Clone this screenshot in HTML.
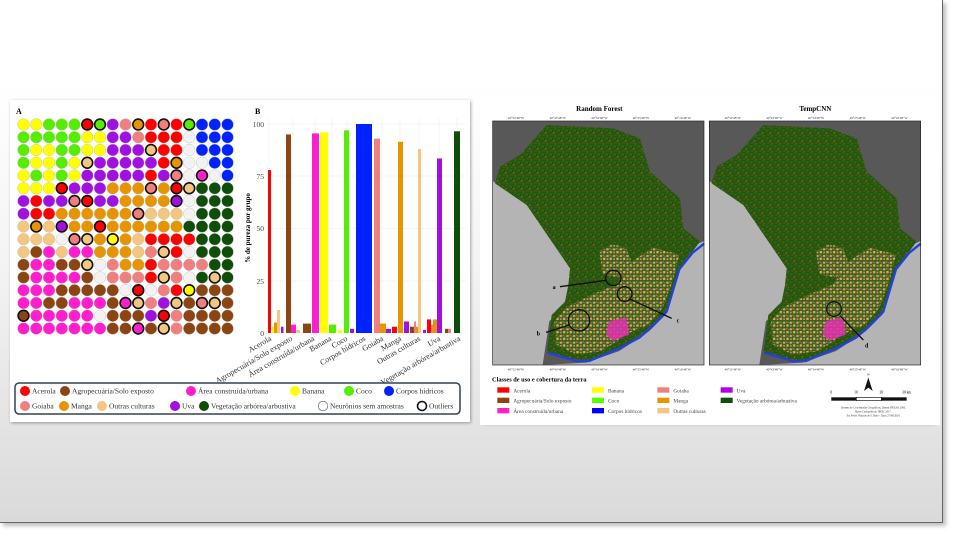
<!DOCTYPE html>
<html><head><meta charset="utf-8">
<style>
html,body{margin:0;padding:0;width:960px;height:540px;overflow:hidden;background:#fff;font-family:"Liberation Serif",serif}
#slide{position:absolute;left:0;top:0;width:942px;height:522px;border-right:1px solid #666;border-bottom:1px solid #666;
background:linear-gradient(#fff 0%,#fff 16%,#f4f4f4 50%,#dadada 100%);box-shadow:3px 3px 4px rgba(0,0,0,0.25)}
.panel{position:absolute;background:#fff;box-shadow:1px 1px 3px rgba(0,0,0,0.35)}
svg{position:absolute;left:0;top:0}
</style></head><body>
<div id="slide"></div>
<div class="panel" style="left:10px;top:100px;width:460px;height:322px"></div>
<div class="panel" style="left:482px;top:99px;width:451px;height:324px"></div>

<svg width="960" height="540" viewBox="0 0 960 540" id="main" font-family="Liberation Serif, serif">
  <text x="16" y="114" font-size="8" font-weight="bold">A</text>
  <g id="grid"></g>

  <text x="255" y="114" font-size="8" font-weight="bold">B</text>
  <g stroke="#ececec" stroke-width="0.6">
    <line x1="266" x2="466" y1="124" y2="124"/><line x1="266" x2="466" y1="176" y2="176"/>
    <line x1="266" x2="466" y1="228.5" y2="228.5"/><line x1="266" x2="466" y1="281" y2="281"/>
    <line x1="266" x2="466" y1="333" y2="333"/>
    <line x1="269" x2="269" y1="118" y2="333"/><line x1="293" x2="293" y1="118" y2="333"/>
    <line x1="315" x2="315" y1="118" y2="333"/><line x1="332" x2="332" y1="118" y2="333"/>
    <line x1="347" x2="347" y1="118" y2="333"/><line x1="364" x2="364" y1="118" y2="333"/>
    <line x1="382" x2="382" y1="118" y2="333"/><line x1="400" x2="400" y1="118" y2="333"/>
    <line x1="419" x2="419" y1="118" y2="333"/><line x1="439" x2="439" y1="118" y2="333"/>
    <line x1="457" x2="457" y1="118" y2="333"/>
  </g>
  <g font-size="7.5" fill="#444" text-anchor="end">
    <text x="264" y="127">100</text><text x="264" y="179">75</text><text x="264" y="231">50</text>
    <text x="264" y="284">25</text><text x="264" y="336">0</text>
  </g>
  <text transform="translate(250,228) rotate(-90)" font-size="7" font-weight="bold" text-anchor="middle">% de pureza por grupo</text>
  <g id="bars"></g>
  <g font-size="8" fill="#333" text-anchor="end">
    <text transform="translate(272,340) rotate(-30)">Acerola</text>
    <text transform="translate(293,340) rotate(-30)">Agropecuária/Solo exposto</text>
    <text transform="translate(315,340) rotate(-30)">Área construída/urbana</text>
    <text transform="translate(332,340) rotate(-30)">Banana</text>
    <text transform="translate(348,340) rotate(-30)">Coco</text>
    <text transform="translate(366,340) rotate(-30)">Corpos hídricos</text>
    <text transform="translate(384,340) rotate(-30)">Goiaba</text>
    <text transform="translate(402,340) rotate(-30)">Manga</text>
    <text transform="translate(421,340) rotate(-30)">Outras culturas</text>
    <text transform="translate(441,340) rotate(-30)">Uva</text>
    <text transform="translate(461,340) rotate(-30)">Vegetação arbórea/arbustiva</text>
  </g>

  <rect x="15" y="383" width="445" height="31" rx="4" fill="#fff" stroke="#33424f" stroke-width="1.5"/>
  <g id="leg" font-size="7.5" fill="#333"></g>
</svg>

<svg width="460" height="330" viewBox="0 0 1380 990" style="left:480px;top:95px" font-family="Liberation Serif, serif">
  <defs>
    <pattern id="spk" width="24" height="24" patternUnits="userSpaceOnUse">
      <rect width="24" height="24" fill="#215a0f"/>
      <rect x="2" y="3" width="7" height="2" fill="#9a4e1c"/><rect x="14" y="9" width="3" height="6" fill="#a8561e"/>
      <rect x="6" y="17" width="8" height="2" fill="#8a4a1a"/><rect x="19" y="19" width="3" height="3" fill="#b0642a"/>
      <rect x="17" y="1" width="2" height="2" fill="#9a5520"/>
    </pattern>
    <pattern id="urb" width="20" height="20" patternUnits="userSpaceOnUse">
      <rect width="20" height="20" fill="#346214"/>
      <rect x="1" y="2" width="7" height="6" fill="#e0a090"/><rect x="11" y="10" width="7" height="7" fill="#e0a860"/>
      <rect x="10" y="1" width="4" height="4" fill="#c07a34"/><rect x="2" y="12" width="5" height="5" fill="#d99070"/>
      <rect x="15" y="4" width="3" height="3" fill="#d070b0"/>
    </pattern>
    <g id="land">
      <rect x="0" y="0" width="634" height="732" fill="#585858"/>
      <polygon points="0,180 110,255 235,440 232,560 170,600 150,732 0,732" fill="#b4b4b4"/>
      <polygon points="634,360 600,375 560,450 520,580 470,630 380,690 280,725 150,732 634,732" fill="#b4b4b4"/>
      <polygon points="7,187 22,137 82,102 162,12 362,22 442,52 472,152 562,232 572,322 622,362 562,442 522,572 472,622 382,682 282,722 162,697 177,582 217,542 227,492 232,442 102,252" fill="url(#spk)"/>
      <polygon points="320,390 360,370 400,380 420,430 380,470 330,460" fill="url(#urb)"/>
      <polygon points="420,420 480,380 560,400 540,480 510,560 470,610 400,640 330,690 250,700 190,670 185,600 220,560 300,520 370,490" fill="url(#urb)"/>
      <polygon points="350,600 400,590 410,640 360,660 340,640" fill="#e030b0" opacity="0.85"/>
      <polyline points="165,695 250,720 290,720 380,682 440,650 475,620 522,572 560,445 600,395 634,368" fill="none" stroke="#2040e0" stroke-width="7"/>
      <rect x="0" y="0" width="634" height="732" fill="none" stroke="#222" stroke-width="2"/>
    </g>
  </defs>
  <rect x="0" y="0" width="1380" height="990" fill="#fff"/>
  <text x="358" y="48" font-size="21" font-weight="bold" text-anchor="middle">Random Forest</text>
  <text x="1006" y="48" font-size="21" font-weight="bold" text-anchor="middle">TempCNN</text>
  <use href="#land" x="38" y="78"/>
  <use href="#land" x="688" y="78"/>
  <g fill="none" stroke="#111" stroke-width="4">
    <circle cx="400" cy="549" r="23"/><circle cx="434" cy="597" r="22"/><circle cx="297" cy="676" r="32"/>
    <circle cx="1062" cy="642" r="22"/>
    <line x1="378" y1="556" x2="240" y2="575"/><line x1="450" y1="612" x2="575" y2="670"/>
    <line x1="268" y1="690" x2="198" y2="712"/><line x1="1080" y1="662" x2="1150" y2="735"/>
  </g>
  <g font-size="18" font-weight="bold">
    <text x="218" y="582">a</text><text x="170" y="722">b</text><text x="590" y="683">c</text><text x="1155" y="758">d</text>
  </g>
  <g font-size="10" fill="#333" text-anchor="middle">
    <text x="108" y="72">40°52'48"W</text><text x="233" y="72">40°43'48"W</text><text x="358" y="72">40°34'48"W</text><text x="483" y="72">40°25'48"W</text><text x="608" y="72">40°16'48"W</text>
    <text x="758" y="72">40°52'48"W</text><text x="883" y="72">40°43'48"W</text><text x="1008" y="72">40°34'48"W</text><text x="1133" y="72">40°25'48"W</text><text x="1258" y="72">40°16'48"W</text>
    <text x="108" y="827">40°52'48"W</text><text x="233" y="827">40°43'48"W</text><text x="358" y="827">40°34'48"W</text><text x="483" y="827">40°25'48"W</text><text x="608" y="827">40°16'48"W</text>
    <text x="758" y="827">40°52'48"W</text><text x="883" y="827">40°43'48"W</text><text x="1008" y="827">40°34'48"W</text><text x="1133" y="827">40°25'48"W</text><text x="1258" y="827">40°16'48"W</text>
  </g>
  <text x="36" y="860" font-size="19" font-weight="bold">Classes de uso e cobertura da terra</text>
  <g font-size="16" fill="#444">
    <rect x="52" y="877" width="36" height="16" fill="#f00"/><text x="100" y="892">Acerola</text>
    <rect x="52" y="908" width="36" height="16" fill="#8b4513"/><text x="100" y="923">Agropecuária/Solo exposto</text>
    <rect x="52" y="939" width="36" height="16" fill="#ff1dce"/><text x="100" y="954">Área construída/urbana</text>
    <rect x="336" y="877" width="36" height="16" fill="#ff0"/><text x="384" y="892">Banana</text>
    <rect x="336" y="908" width="36" height="16" fill="#5f0"/><text x="384" y="923">Coco</text>
    <rect x="336" y="939" width="36" height="16" fill="#00f"/><text x="384" y="954">Corpos hídricos</text>
    <rect x="532" y="877" width="36" height="16" fill="#f08080"/><text x="580" y="892">Goiaba</text>
    <rect x="532" y="908" width="36" height="16" fill="#e69500"/><text x="580" y="923">Manga</text>
    <rect x="532" y="939" width="36" height="16" fill="#f3c77f"/><text x="580" y="954">Outras culturas</text>
    <rect x="722" y="877" width="36" height="16" fill="#a0e"/><text x="770" y="892">Uva</text>
    <rect x="722" y="908" width="36" height="16" fill="#0f4d0a"/><text x="770" y="923">Vegetação arbórea/arbustiva</text>
  </g>
  <polygon points="1165,848 1152,888 1165,878 1178,888" fill="#111"/>
  <text x="1165" y="842" font-size="10" text-anchor="middle">N</text>
  <g font-size="11" text-anchor="middle"><text x="1054" y="896">0</text><text x="1128" y="896">10</text><text x="1204" y="896">20</text><text x="1280" y="896">30 km</text></g>
  <rect x="1054" y="907" width="75" height="10" fill="#111"/><rect x="1129" y="907" width="75" height="10" fill="#fff" stroke="#111" stroke-width="2"/><rect x="1204" y="907" width="76" height="10" fill="#111"/>
  <g font-size="8" text-anchor="middle" fill="#333"><text x="1180" y="940">Sistema de Coordenadas Geográficas, Datum SIRGAS 2000.</text><text x="1180" y="952">Bases Cartográficas: IBGE, 2017.</text><text x="1180" y="964">Ed: Pedro Vinícius de S. Brito - Data: 27/08/2024.</text></g>
</svg>

<script>
var C={Y:"#ffff00",G:"#55ee00",R:"#ff0000",P:"#a010e0",K:"#f08080",O:"#e69500",B:"#0022ff",W:"#f2f2f2",T:"#f3c77f",M:"#ff1dce",N:"#8b4513",D:"#0f4d0a"};
var rows=[
"YYGGGR*G*PKO*RK*RG*BBB",
"GGGGGYYPPKRRRWBBB",
"GYYGGYYPPPT*RRWBBB",
"GYYGYT*PPPPPRO*WWBB",
"YGYGYPPPPPRPK*WM*WB",
"YYYR*PPPOOOK*OR*T*DDD",
"PRPPK*R*PPOOOOP*WDDD",
"PRROOOOOOK*TTTWDDD",
"TO*TP*OOR*OOOOOODDDD",
"TTTWK*T*OY*OTRRRRDDD",
"TNMTMMOOOTKT*RWDDD",
"NMMNNT*WKOORKKKKDD",
"NMMMMNWKKKRT*KWDT*D",
"MMMNNNNNWR*WKRY*NNN",
"MMNNMMMNM*T*KPT*NK*T*N",
"N*MMMMMWNNNPR*KNNNN",
"MMMMMMMNNM*NT*KNNNN"];
var g=document.getElementById("grid"),h="";
rows.forEach(function(r,ri){var cells=[];for(var i=0;i<r.length;i++){if(r[i]=="*")cells[cells.length-1].o=1;else cells.push({c:r[i]});}
cells.slice(0,17).forEach(function(c,ci){var cx=23.5+ci*12.75,cy=124.5+ri*12.75;
h+='<circle cx="'+cx+'" cy="'+cy+'" r="'+(c.o?5.4:5.9)+'" fill="'+C[c.c]+'" stroke="'+(c.o?"#111":"#bbb")+'" stroke-width="'+(c.o?1.6:0.4)+'"/>';});});
g.innerHTML=h;
var bars=[[268,3,78,"R"],[272,2,3,"Y"],[274,3,5,"O"],[277,3,11,"T"],[281,2.5,3,"P"],
[286,5,95,"N"],[291,5,4,"M"],[296,4,1.5,"T"],
[303,8,4.5,"N"],[312,7,95.5,"M"],
[320,8,96,"Y"],[329,7,4,"G"],
[338,4,1.5,"Y"],[344,5,97,"G"],[350,4,2,"P"],
[356,16,100,"B"],
[374,6,93,"K"],[380,6,4.5,"O"],[386,5,2,"P"],
[392,5,3,"R"],[398,5,91.5,"O"],[404,5,5.5,"P"],
[410,4,3,"N"],[414,2,5.5,"K"],[416,2,3,"O"],[418,3,88,"T"],[423,3,1.5,"P"],
[427,4,6.5,"R"],[431,2,4,"K"],[433,4,6.5,"O"],[437,5,83.5,"P"],
[445,3,2,"N"],[448,3,2,"K"],[454,6,96.5,"D"]];
h="";bars.forEach(function(b){var y=333-2.09*b[2];h+='<rect x="'+b[0]+'" y="'+y+'" width="'+b[1]+'" height="'+(333-y)+'" fill="'+C[b[3]]+'"/>';});
document.getElementById("bars").innerHTML=h;
var L=[[25,391,"R","Acerola"],[65,391,"N","Agropecuária/Solo exposto"],[191,391,"M","Área construída/urbana"],[295,391,"Y","Banana"],[349,391,"G","Coco"],[389,391,"B","Corpos hídricos"],
[25,406,"K","Goiaba"],[64,406,"O","Manga"],[102,406,"T","Outras culturas"],[175,406,"P","Uva"],[204,406,"D","Vegetação arbórea/arbustiva"],[323,406,"W","Neurônios sem amostras"],[422,406,"X","Outliers"]];
h="";L.forEach(function(l){if(l[2]=="X")h+='<circle cx="'+l[0]+'" cy="'+l[1]+'" r="4.5" fill="#fff" stroke="#111" stroke-width="1.6"/>';
else if(l[2]=="W")h+='<circle cx="'+l[0]+'" cy="'+l[1]+'" r="4.8" fill="#fff" stroke="#555" stroke-width="0.6"/>';
else h+='<circle cx="'+l[0]+'" cy="'+l[1]+'" r="5" fill="'+C[l[2]]+'"/>';
h+='<text x="'+(l[0]+7)+'" y="'+(l[1]+2.7)+'">'+l[3]+'</text>';});
document.getElementById("leg").innerHTML=h;
</script>
</body></html>
